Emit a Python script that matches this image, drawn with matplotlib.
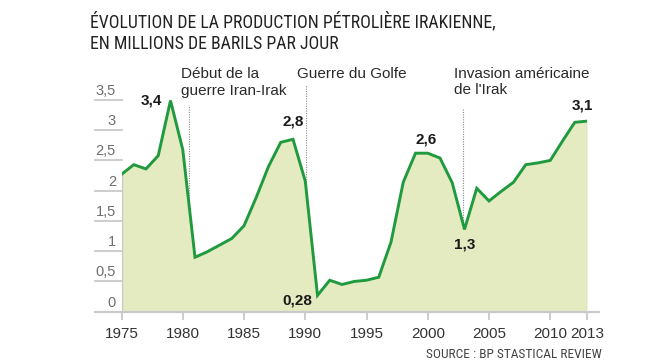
import matplotlib
matplotlib.use("Agg")
import matplotlib.pyplot as plt
import matplotlib.transforms as mtransforms
from matplotlib import font_manager
import numpy as np

# ---------------- data ----------------
years = list(range(1975, 2014))
production = [2.27, 2.43, 2.36, 2.58, 3.49, 2.68, 0.90, 0.99, 1.10, 1.21,
              1.42, 1.89, 2.40, 2.80, 2.85, 2.16, 0.27, 0.52, 0.45, 0.50,
              0.52, 0.57, 1.15, 2.14, 2.62, 2.62, 2.54, 2.13, 1.36, 2.04,
              1.83, 1.99, 2.14, 2.43, 2.46, 2.50, 2.82, 3.13, 3.15]
xtick_values = [1975, 1980, 1985, 1990, 1995, 2000, 2005, 2010, 2013]
xtick_labels = ["1975", "1980", "1985", "1990", "1995", "2000", "2005", "2010", "2013"]
ytick_values = [0, 0.5, 1, 1.5, 2, 2.5, 3, 3.5]
ytick_labels = ["0", "0,5", "1", "1,5", "2", "2,5", "3", "3,5"]
title_lines = ["ÉVOLUTION DE LA PRODUCTION PÉTROLIÈRE IRAKIENNE,",
               "EN MILLIONS DE BARILS PAR JOUR"]
source_text = "SOURCE : BP STASTICAL REVIEW"
events_x = [1980.5, 1990.05, 2002.9]
events_top = [3.42, 3.75, 3.36]
event_labels = [["Début de la", "guerre Iran-Irak"], ["Guerre du Golfe"],
                ["Invasion américaine", "de l'Irak"]]
value_labels = [(1979, "3,4"), (1989, "2,8"), (1991, "0,28"), (2000, "2,6"),
                (2003, "1,3"), (2013, "3,1")]

# ---------------- fonts ----------------
ttf = font_manager.fontManager.ttflist
available = {f.name for f in ttf}
REG = "Liberation Sans" if "Liberation Sans" in available else "DejaVu Sans"
NARROW = None
NARROW_STRETCH = "normal"
for cand in ["Liberation Sans Narrow", "Roboto Condensed", "Open Sans Condensed",
             "Noto Sans Condensed", "DejaVu Sans Condensed"]:
    if cand in available:
        NARROW = cand
        break
if NARROW is None:
    for f in ttf:
        st = f.stretch
        cond = (isinstance(st, str) and "condensed" in st) or \
               (isinstance(st, (int, float)) and st < 500)
        if cond and f.name in ("Roboto", "Open Sans", "Noto Sans", "DejaVu Sans", "Inter", "Lato"):
            NARROW = f.name
            NARROW_STRETCH = "condensed"
            break
if NARROW is None:
    NARROW = "Roboto" if "Roboto" in available else REG

W, H = 664, 364
fig = plt.figure(figsize=(W / 100, H / 100), dpi=100)
renderer = fig.canvas.get_renderer()

def fx(px):
    return px / W

def fy(py):
    return 1 - py / H

def fit_width(txt, target_px):
    bb = txt.get_window_extent(renderer=renderer)
    if bb.width > 0:
        txt.set_fontsize(txt.get_fontsize() * target_px / bb.width)
    return txt.get_fontsize()

x_left, x_right = 121.5, 587.0
y_zero, px_per_unit = 311.7, 60.5
ymax = 3.9
ax = fig.add_axes([fx(x_left), fy(y_zero), fx(x_right - x_left),
                   ymax * px_per_unit / H])
ax.set_xlim(1975, 2013)
ax.set_ylim(0, ymax)
for s in ax.spines.values():
    s.set_visible(False)

green = "#1f9a3e"
fill = "#e4ebc1"
grid = "#c9c9c9"

ax.fill_between(years, production, 0, color=fill, lw=0, zorder=1)
ax.plot(years, production, color=green, lw=2.1, zorder=4,
        solid_joinstyle="miter")
ax.vlines([years[0], years[-1]], 0, [production[0], production[-1]],
          color=grid, lw=1.0, zorder=2)

# baseline & left grid stubs
span = x_right - x_left
ax.axhline(0, xmin=(95 - x_left) / span, xmax=(599 - x_left) / span,
           color=grid, lw=1.6, clip_on=False, zorder=3)
for v in ytick_values[1:]:
    ax.axhline(v, xmin=(95 - x_left) / span, xmax=0, color=grid, lw=1.3,
               clip_on=False, zorder=3)

# y labels above stubs
off = mtransforms.ScaledTranslation(0, 9 / 100, fig.dpi_scale_trans)
tr = mtransforms.blended_transform_factory(ax.transAxes, ax.transData) + off
for v, lab in zip(ytick_values, ytick_labels):
    ax.text((116 - x_left) / span, v, lab, transform=tr, ha="right",
            va="center", fontsize=10.5, color="#6e6e6e", family=REG)
ax.set_yticks([])

# x ticks
ax.set_xticks(xtick_values)
ax.set_xticklabels(xtick_labels, family=REG, fontsize=11, color="#333333")
ax.tick_params(axis="x", length=6, width=1.3, color=grid, pad=5)

# event dotted lines
prod_interp = np.interp(events_x, years, production)
for ex, top, bot in zip(events_x, events_top, prod_interp):
    ax.plot([ex, ex], [bot, top], color="#8a8a8a", lw=0.8, ls=(0, (1, 1.2)),
            zorder=2, clip_on=False)

# event labels
label_pos = [180.7, 296.7, 454.3]
for xpx, lines in zip(label_pos, event_labels):
    for i, line in enumerate(lines):
        fig.text(fx(xpx), fy(78 + i * 16.5), line, ha="left", va="baseline",
                 fontsize=11, color="#2a2a2a", family=REG)

# value labels
offsets = {"3,4": (-6, 0, "right", "center"),
           "2,8": (0, 8, "center", "bottom"),
           "0,28": (-4, -4, "right", "center"),
           "2,6": (-1, 5, "center", "bottom"),
           "1,3": (0, -6, "center", "top"),
           "3,1": (-3, 6, "center", "bottom")}
for yr, lab in value_labels:
    val = production[years.index(yr)]
    dx, dy, ha, va = offsets[lab]
    ax.annotate(lab, (yr, val), xytext=(dx, dy), textcoords="offset points",
                ha=ha, va=va, fontsize=11, fontweight="bold", color="#1a1a1a",
                family=REG, zorder=5, annotation_clip=False)

# title
t1 = fig.text(fx(89.6), fy(27.7), title_lines[0], ha="left", va="baseline",
              fontsize=12, color="#222222", family=NARROW,
              fontstretch=NARROW_STRETCH)
size = fit_width(t1, 402)
fig.text(fx(89.6), fy(49.3), title_lines[1], ha="left", va="baseline",
         fontsize=size, color="#222222", family=NARROW,
         fontstretch=NARROW_STRETCH)

# source
src = fig.text(fx(601.7), fy(358), source_text, ha="right", va="baseline",
               fontsize=9, color="#444444", family=NARROW,
               fontstretch=NARROW_STRETCH)
fit_width(src, 175)

fig.savefig("out.png", dpi=100)
